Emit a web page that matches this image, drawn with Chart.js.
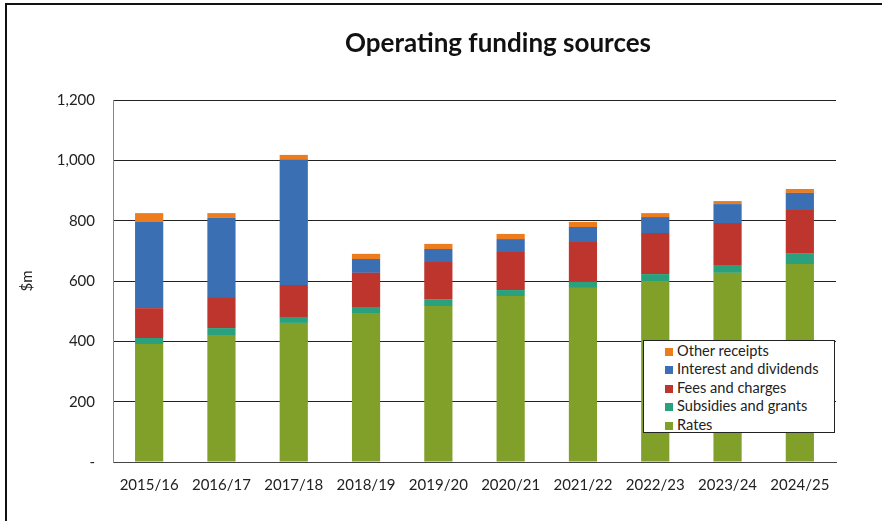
<!DOCTYPE html>
<html>
<head>
<meta charset="utf-8">
<script src="https://cdn.jsdelivr.net/npm/chart.js@4.4.1/dist/chart.umd.min.js"></script>
<style>
  html, body { margin: 0; padding: 0; background: #fff; }
  #wrap { position: relative; width: 882px; height: 521px; }
  #legend {
    position: absolute; left: 643px; top: 340px; width: 190px; height: 90px;
    background: #fff; border: 1px solid #222; box-sizing: content-box;
    font-family: Lato, "Open Sans", sans-serif; font-size: 14.6px; color: #222;
    padding-top: 1px;
  }
  #legend div { height: 18.4px; line-height: 18.4px; white-space: nowrap; }
  #legend span { display: inline-block; width: 8px; height: 8px; margin: 0 4px 0 21px; vertical-align: 0px; }
</style>
</head>
<body>
<div id="wrap">
  <canvas id="myChart" width="882" height="521"></canvas>
  <div id="legend"></div>
</div>
<script>
const years = ['2015/16', '2016/17', '2017/18', '2018/19', '2019/20', '2020/21', '2021/22', '2022/23', '2023/24', '2024/25']

// $m per year, stacked bottom to top
const rates = [391, 421, 461, 494, 517, 550, 577, 600, 627, 656]
const subsidies = [20, 23, 20, 20, 23, 20, 20, 23, 26, 34]
const fees = [99, 100, 106, 113, 123, 126, 132, 136, 139, 145]
const interest = [286, 265, 417, 46, 43, 43, 50, 53, 63, 57]
const other = [29, 16, 14, 17, 17, 17, 17, 13, 10, 13]

const yTicks = [0, 200, 400, 600, 800, 1000, 1200]

const font = 'Lato, "Open Sans", sans-serif'

// frame lines and the heading
const decor = {
    id: 'decor',
    beforeDraw(chart) {
        const c = chart.ctx
        c.save()
        c.fillStyle = '#fff'
        c.fillRect(0, 0, chart.width, chart.height)
        c.strokeStyle = '#111'
        c.lineWidth = 2
        c.beginPath()
        c.moveTo(6, chart.height)
        c.lineTo(6, 4)
        c.lineTo(chart.width, 4)
        c.stroke()
        c.restore()
    },
    afterDraw(chart) {
        const c = chart.ctx
        c.save()
        c.font = 'bold 26px ' + font
        c.fillStyle = '#111'
        c.textAlign = 'center'
        c.textBaseline = 'middle'
        c.fillText('Operating funding sources', 498, 44)
        c.restore()
    }
}

const ctx = document.getElementById('myChart').getContext('2d')

const myChart = new Chart(ctx, {
    type: 'bar',
    data: {
        labels: years,
        datasets: [
            { label: 'Rates', data: rates, backgroundColor: '#80A02A' },
            { label: 'Subsidies and grants', data: subsidies, backgroundColor: '#2AA07C' },
            { label: 'Fees and charges', data: fees, backgroundColor: '#BE352E' },
            { label: 'Interest and dividends', data: interest, backgroundColor: '#3B6FB3' },
            { label: 'Other receipts', data: other, backgroundColor: '#EC7C1E' }
        ]
    },
    options: {
        responsive: false,
        animation: false,
        datasets: { bar: { barPercentage: 1, categoryPercentage: 0.39 } },
        layout: { padding: { left: 14, top: 100, right: 46, bottom: 19 } },
        plugins: {
            legend: { display: false },
            tooltip: { enabled: false }
        },
        scales: {
            x: {
                stacked: true,
                grid: { display: false, drawTicks: false },
                border: { color: '#444', width: 1 },
                ticks: { color: '#222', padding: 14, font: { family: font, size: 15 } },
                afterFit(scale) { scale.height = 40 }
            },
            y: {
                stacked: true,
                min: 0,
                max: 1200,
                afterBuildTicks(scale) { scale.ticks = yTicks.map(v => ({ value: v })) },
                grid: { color: '#222', lineWidth: 1, drawTicks: false },
                border: { color: '#888', width: 1 },
                ticks: {
                    color: '#222',
                    padding: 18,
                    font: { family: font, size: 15 },
                    callback: v => v === 0 ? '-' : v.toLocaleString('en-US')
                },
                title: { display: true, text: '$m', color: '#222', padding: 4, font: { family: font, size: 15 } },
                afterFit(scale) { scale.width = 99 }
            }
        }
    },
    plugins: [decor]
})

// legend lists the series top-down, matching the stack order
const legendEl = document.getElementById('legend')
legendEl.innerHTML = myChart.data.datasets.slice().reverse()
    .map(ds => `<div><span style="background:${ds.backgroundColor}"></span>${ds.label}</div>`)
    .join('')
</script>
</body>
</html>
